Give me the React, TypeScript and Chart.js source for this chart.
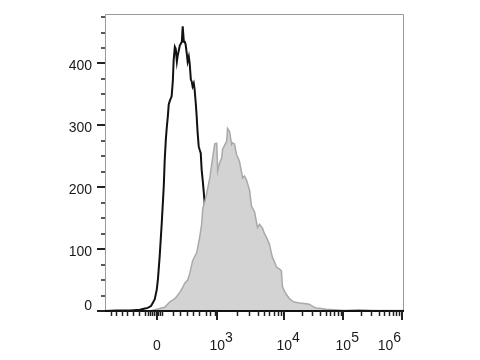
import { useEffect, useRef } from "react";
import { Chart, registerables } from "chart.js";

Chart.register(...registerables);

// x values are logicle display channels (0–1024); y values are event counts
const controlX = [0, 40, 86, 120, 137, 147, 158, 164, 171, 178, 182, 188, 195, 202, 205, 209, 212, 216, 219, 223, 229, 233, 236, 240, 243, 247, 250, 257, 264, 267, 271, 274, 277, 281, 284, 288, 291, 295, 298, 301, 305, 308, 312, 315, 318, 322, 325, 329, 332, 336, 339, 342, 346, 349, 353, 360, 363, 370, 377, 387, 401, 415, 428, 440, 452, 462, 475, 490, 500, 512, 525, 540, 555, 570, 585, 600, 620, 640, 670, 1024];
const controlY = [0, 1, 1, 2, 4, 5, 8, 13, 19, 35, 52, 89, 142, 202, 242, 277, 295, 315, 334, 340, 347, 371, 406, 427, 424, 403, 413, 429, 435, 460, 435, 435, 431, 416, 403, 411, 400, 374, 371, 363, 368, 358, 335, 315, 290, 266, 261, 255, 229, 210, 194, 177, 137, 105, 84, 65, 45, 23, 11, 5, 3, 2, 4, 2, 3, 5, 2, 4, 3, 5, 2, 4, 3, 2, 3, 1, 2, 1, 0, 0];

const stainedX = [0, 154, 171, 188, 205, 223, 240, 257, 267, 274, 284, 291, 301, 308, 315, 325, 332, 336, 342, 349, 360, 366, 377, 384, 387, 394, 401, 404, 411, 418, 421, 428, 435, 438, 445, 452, 462, 473, 479, 486, 497, 503, 514, 524, 531, 541, 548, 555, 565, 575, 582, 589, 599, 606, 610, 616, 623, 634, 644, 654, 668, 685, 702, 719, 726, 743, 760, 788, 822, 873, 925, 1010, 1024];
const stainedY = [0, 0, 2, 4, 6, 15, 20, 30, 38, 45, 50, 60, 81, 88, 94, 118, 140, 166, 175, 189, 215, 235, 270, 271, 226, 240, 247, 261, 268, 274, 295, 290, 269, 272, 270, 253, 242, 215, 218, 212, 195, 170, 160, 135, 140, 134, 125, 119, 108, 87, 80, 71, 68, 65, 39, 33, 27, 20, 16, 14, 13, 12, 11, 6, 5, 4, 3, 2, 1, 2, 1, 1, 1];

const yMajorTicks = [0, 100, 200, 300, 400];
const yMinorTicks = [25, 50, 75, 125, 150, 175, 225, 250, 275, 325, 350, 375, 425, 450, 475];

const xMajorTicks = [178, 386, 616, 819, 1021];
const xMajorBase = ["0", "10", "10", "10", "10"];
const xMajorExp = ["", "3", "4", "5", "6"];
const xLowMinorTicks = [20, 38, 57, 75, 96, 116, 137, 147, 154, 161, 168, 175, 181, 188, 195, 233, 257, 281, 301, 322, 346, 360, 377];

function buildMinorTicks(): number[] {
  const out = [...xLowMinorTicks];
  for (let d = 1; d < xMajorTicks.length - 1; d++) {
    const a = xMajorTicks[d];
    const b = xMajorTicks[d + 1];
    for (let k = 2; k <= 9; k++) out.push(a + Math.log10(k) * (b - a));
  }
  return out;
}

const FONT = "14px 'Liberation Sans', Arial, sans-serif";

const axesPlugin = {
  id: "flowAxes",
  afterDraw(chart: any) {
    const { ctx, chartArea: a, scales } = chart;
    const xs = scales.x;
    const ys = scales.y;
    ctx.save();
    // frame (left, top, right)
    ctx.strokeStyle = "#9a9a9a";
    ctx.lineWidth = 1;
    ctx.beginPath();
    ctx.moveTo(a.left + 0.5, a.bottom);
    ctx.lineTo(a.left + 0.5, a.top + 0.5);
    ctx.lineTo(a.right + 0.5, a.top + 0.5);
    ctx.lineTo(a.right + 0.5, a.bottom);
    ctx.stroke();

    // x axis line
    ctx.strokeStyle = "#111";
    ctx.lineWidth = 2;
    ctx.beginPath();
    ctx.moveTo(a.left, a.bottom);
    ctx.lineTo(a.right + 1, a.bottom);
    ctx.stroke();

    // y ticks
    ctx.strokeStyle = "#222";
    yMajorTicks.forEach((v) => {
      const py = Math.round(ys.getPixelForValue(v)) + 0;
      ctx.lineWidth = 2;
      ctx.beginPath();
      ctx.moveTo(a.left - 8, py);
      ctx.lineTo(a.left, py);
      ctx.stroke();
    });
    yMinorTicks.forEach((v) => {
      const py = Math.round(ys.getPixelForValue(v));
      ctx.lineWidth = 1.5;
      ctx.beginPath();
      ctx.moveTo(a.left - 4, py);
      ctx.lineTo(a.left, py);
      ctx.stroke();
    });

    // x ticks
    xMajorTicks.forEach((v) => {
      const px = Math.round(xs.getPixelForValue(v));
      ctx.lineWidth = 2;
      ctx.beginPath();
      ctx.moveTo(px, a.bottom);
      ctx.lineTo(px, a.bottom + 9);
      ctx.stroke();
    });
    buildMinorTicks().forEach((v) => {
      const px = Math.round(xs.getPixelForValue(v)) + 0.5;
      ctx.lineWidth = 1.5;
      ctx.beginPath();
      ctx.moveTo(px, a.bottom);
      ctx.lineTo(px, a.bottom + 5);
      ctx.stroke();
    });

    // y labels
    ctx.fillStyle = "#1a1a1a";
    ctx.font = FONT;
    ctx.textAlign = "right";
    ctx.textBaseline = "middle";
    yMajorTicks.forEach((v) => {
      const py = ys.getPixelForValue(v);
      const ly = v === 0 ? py - 5 : py + 3;
      ctx.fillText(String(v), a.left - 13, ly);
    });

    // x labels
    ctx.textAlign = "left";
    ctx.textBaseline = "alphabetic";
    xMajorTicks.forEach((v, i) => {
      const px = xs.getPixelForValue(v);
      const base = xMajorBase[i];
      const exp = xMajorExp[i];
      const wb = ctx.measureText(base).width;
      const we = exp ? ctx.measureText(exp).width : 0;
      let start = px - wb / 2;
      if (start + wb + we > a.right - 2) start = a.right - 2 - wb - we;
      ctx.fillText(base, start, a.bottom + 39);
      if (exp) ctx.fillText(exp, start + wb, a.bottom + 31);
    });
    ctx.restore();
  },
};

export default function App() {
  const ref = useRef<HTMLCanvasElement | null>(null);
  useEffect(() => {
    if (!ref.current) return;
    const chart = new Chart(ref.current, {
      type: "line",
      data: {
        datasets: [
          {
            label: "Stained",
            data: stainedX.map((x, i) => ({ x, y: stainedY[i] })),
            borderColor: "#a9a9a9",
            backgroundColor: "#d3d3d3",
            borderWidth: 1.5,
            fill: "origin",
            pointRadius: 0,
            tension: 0,
          },
          {
            label: "Control",
            data: controlX.map((x, i) => ({ x, y: controlY[i] })),
            borderColor: "#111111",
            borderWidth: 2,
            fill: false,
            pointRadius: 0,
            tension: 0,
          },
        ],
      },
      options: {
        responsive: false,
        animation: false,
        layout: { padding: { left: 105, right: 77, top: 14, bottom: 49 } },
        plugins: { legend: { display: false }, tooltip: { enabled: false } },
        scales: {
          x: { type: "linear", display: false, min: 0, max: 1024 },
          y: { type: "linear", display: false, min: 0, max: 480 },
        },
      },
      plugins: [axesPlugin],
    });
    return () => chart.destroy();
  }, []);
  return (
    <div style={{ position: "fixed", left: 0, top: 0, width: 480, height: 360, background: "#fff" }}>
      <canvas ref={ref} width={480} height={360} />
    </div>
  );
}
